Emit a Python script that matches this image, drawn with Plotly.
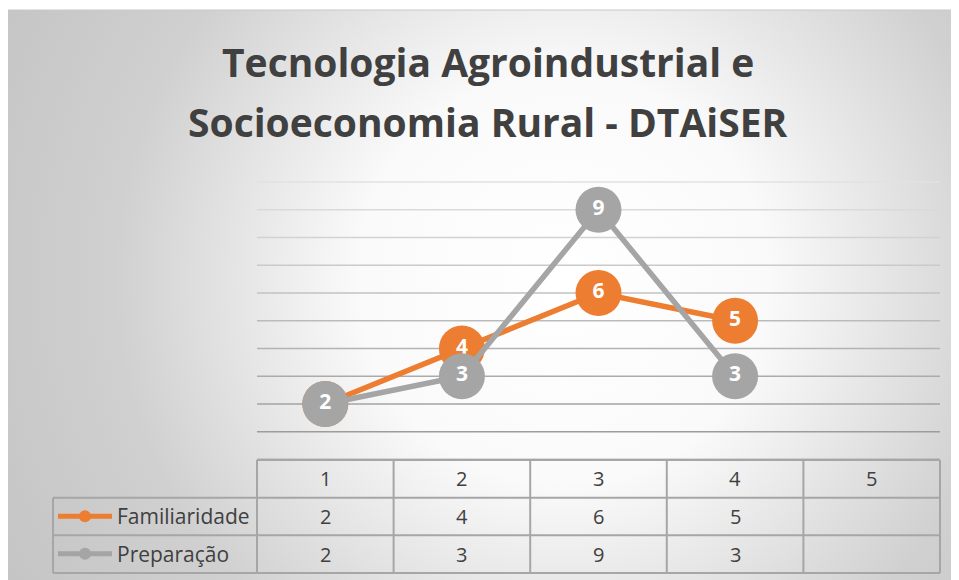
import base64
import plotly.graph_objects as go

# data
categories = [1, 2, 3, 4, 5]
familiaridade = [2, 4, 6, 5]
preparacao = [2, 3, 9, 3]
series_names = ["Familiaridade", "Preparação"]
grid_values = list(range(1, 11))

title_lines = ["Tecnologia Agroindustrial e", "Socioeconomia Rural - DTAiSER"]

ORANGE = "#ED7D31"
GRAY = "#A5A5A5"
TXT = "#404040"
TABLE_LINE = "#A6A6A6"

# page body has an 8px margin, so the figure is a bit smaller than the window
OFF = 8
W, H = 959 - OFF, 580 - OFF


def fx(s):
    # screen x pixel -> paper fraction
    return (s - OFF) / W


def fy(s):
    # screen y pixel -> paper fraction
    return 1 - (s - OFF) / H


# pixel layout of the chart (screen coordinates, placement only)
col_left, col_right = 257, 940
col_w = (col_right - col_left) / len(categories)
y0_px, y10_px = 459.5, 182
row_px = (y10_px - y0_px) / 10  # negative
tbl_left, tbl_top, tbl_bottom = 53, 460, 573
row_h = (tbl_bottom - tbl_top) / 3


def px_to_x(p):
    return 0.5 + (p - col_left) / col_w


# ======================
# BACKGROUND GRADIENT
# ======================
svg = f"""<svg xmlns='http://www.w3.org/2000/svg' width='{W}' height='{H}'>
<defs><radialGradient id='g' gradientUnits='userSpaceOnUse' cx='555' cy='270' r='640'>
<stop offset='0' stop-color='#ffffff'/>
<stop offset='0.32' stop-color='#fafafa'/>
<stop offset='0.7' stop-color='#d0d0d0'/>
<stop offset='1' stop-color='#c4c4c4'/>
</radialGradient></defs>
<rect x='0' y='0' width='{W}' height='{H}' fill='url(#g)'/>
</svg>"""
bg_src = "data:image/svg+xml;base64," + base64.b64encode(svg.encode()).decode()

fig = go.Figure()

# ======================
# LINES
# ======================
for name, vals, color in [(series_names[0], familiaridade, ORANGE),
                          (series_names[1], preparacao, GRAY)]:
    fig.add_trace(go.Scatter(
        x=categories[:len(vals)], y=vals, name=name,
        mode="lines+markers+text",
        text=[str(v) for v in vals], textposition="middle center",
        textfont=dict(family="Open Sans", size=21, color="white", weight="bold"),
        line=dict(color=color, width=5.5),
        marker=dict(color=color, size=46, line=dict(width=0)),
        cliponaxis=False,
        legend="legend" if color == ORANGE else "legend2",
        xaxis="x", yaxis="y",
    ))

shapes = []
# gridlines with a light-to-dark fade
for v in grid_values:
    t = (v - 1) / 9
    c = int(0x9C + (0xE2 - 0x9C) * t)
    shapes.append(dict(type="line", xref="x", yref="y", x0=0.5, x1=5.5, y0=v, y1=v,
                       line=dict(color=f"rgb({c},{c},{c})", width=1.6), layer="below"))
shapes.append(dict(type="line", xref="x", yref="y", x0=0.5, x1=5.5, y0=0, y1=0,
                   line=dict(color="#7F7F7F", width=1.5), layer="below"))

# ======================
# DATA TABLE
# ======================
left_x = px_to_x(tbl_left)
n = len(categories)
for r in range(3):
    shapes.append(dict(type="line", xref="x2", yref="y2", x0=left_x, x1=n + 0.5, y0=r, y1=r,
                       line=dict(color=TABLE_LINE, width=2)))
shapes.append(dict(type="line", xref="x2", yref="y2", x0=0.5, x1=n + 0.5, y0=3, y1=3,
                   line=dict(color=TABLE_LINE, width=2)))
shapes.append(dict(type="line", xref="x2", yref="y2", x0=left_x, x1=left_x, y0=0, y1=2,
                   line=dict(color=TABLE_LINE, width=2)))
for i in range(n + 1):
    shapes.append(dict(type="line", xref="x2", yref="y2", x0=i + 0.5, x1=i + 0.5, y0=0, y1=3,
                       line=dict(color=TABLE_LINE, width=2)))

# chart border
shapes.append(dict(type="rect", xref="paper", yref="paper", x0=0, x1=1.01, y0=-0.02, y1=fy(10),
                   line=dict(color="#C8C8C8", width=1), layer="below"))

annotations = []
cell_font = dict(family="Open Sans", size=20, color=TXT)
for c in categories:
    annotations.append(dict(xref="x2", yref="y2", x=c, y=2.5, text=str(c), showarrow=False, font=cell_font))
for row_y, vals in [(1.5, familiaridade), (0.5, preparacao)]:
    for c, v in zip(categories, vals):
        annotations.append(dict(xref="x2", yref="y2", x=c, y=row_y, text=str(v), showarrow=False, font=cell_font))

# ======================
# TITLE
# ======================
for line, ypx in zip(title_lines, [62, 122]):
    annotations.append(dict(xref="paper", yref="paper", x=fx(488), y=fy(ypx), xanchor="center", yanchor="middle",
                            text=line, showarrow=False,
                            font=dict(family="Open Sans", size=39, color=TXT, weight="bold")))

pad = 2
leg_common = dict(xanchor="left", yanchor="middle", itemsizing="constant", itemwidth=54,
                  bgcolor="rgba(0,0,0,0)", font=dict(family="Open Sans", size=21, color=TXT),
                  itemclick=False, itemdoubleclick=False)

fig.update_layout(
    width=W, height=H,
    margin=dict(l=0, r=0, t=0, b=0),
    paper_bgcolor="white", plot_bgcolor="rgba(0,0,0,0)",
    showlegend=True,
    legend=dict(x=fx(tbl_left), y=fy(tbl_top + 1.5 * row_h), **leg_common),
    legend2=dict(x=fx(tbl_left), y=fy(tbl_top + 2.5 * row_h), **leg_common),
    xaxis=dict(domain=[fx(col_left), fx(col_right)], range=[0.5, 5.5], visible=False, fixedrange=True),
    yaxis=dict(domain=[fy(y0_px - 0.3 * row_px), fy(y10_px + 0.3 * row_px)], range=[-0.3, 10.3],
               visible=False, fixedrange=True),
    xaxis2=dict(domain=[fx(tbl_left - pad), fx(col_right + pad)],
                range=[px_to_x(tbl_left - pad), px_to_x(col_right + pad)],
                visible=False, anchor="y2", fixedrange=True),
    yaxis2=dict(domain=[fy(tbl_bottom + pad), fy(tbl_top - pad)],
                range=[-pad / row_h, 3 + pad / row_h], visible=False, anchor="x2", fixedrange=True),
    shapes=shapes,
    annotations=annotations,
    images=[dict(source=bg_src, xref="paper", yref="paper", x=0, y=fy(10),
                 sizex=1, sizey=fy(10), sizing="stretch",
                 xanchor="left", yanchor="top", layer="below")],
)

fig.write_html("out.html")
